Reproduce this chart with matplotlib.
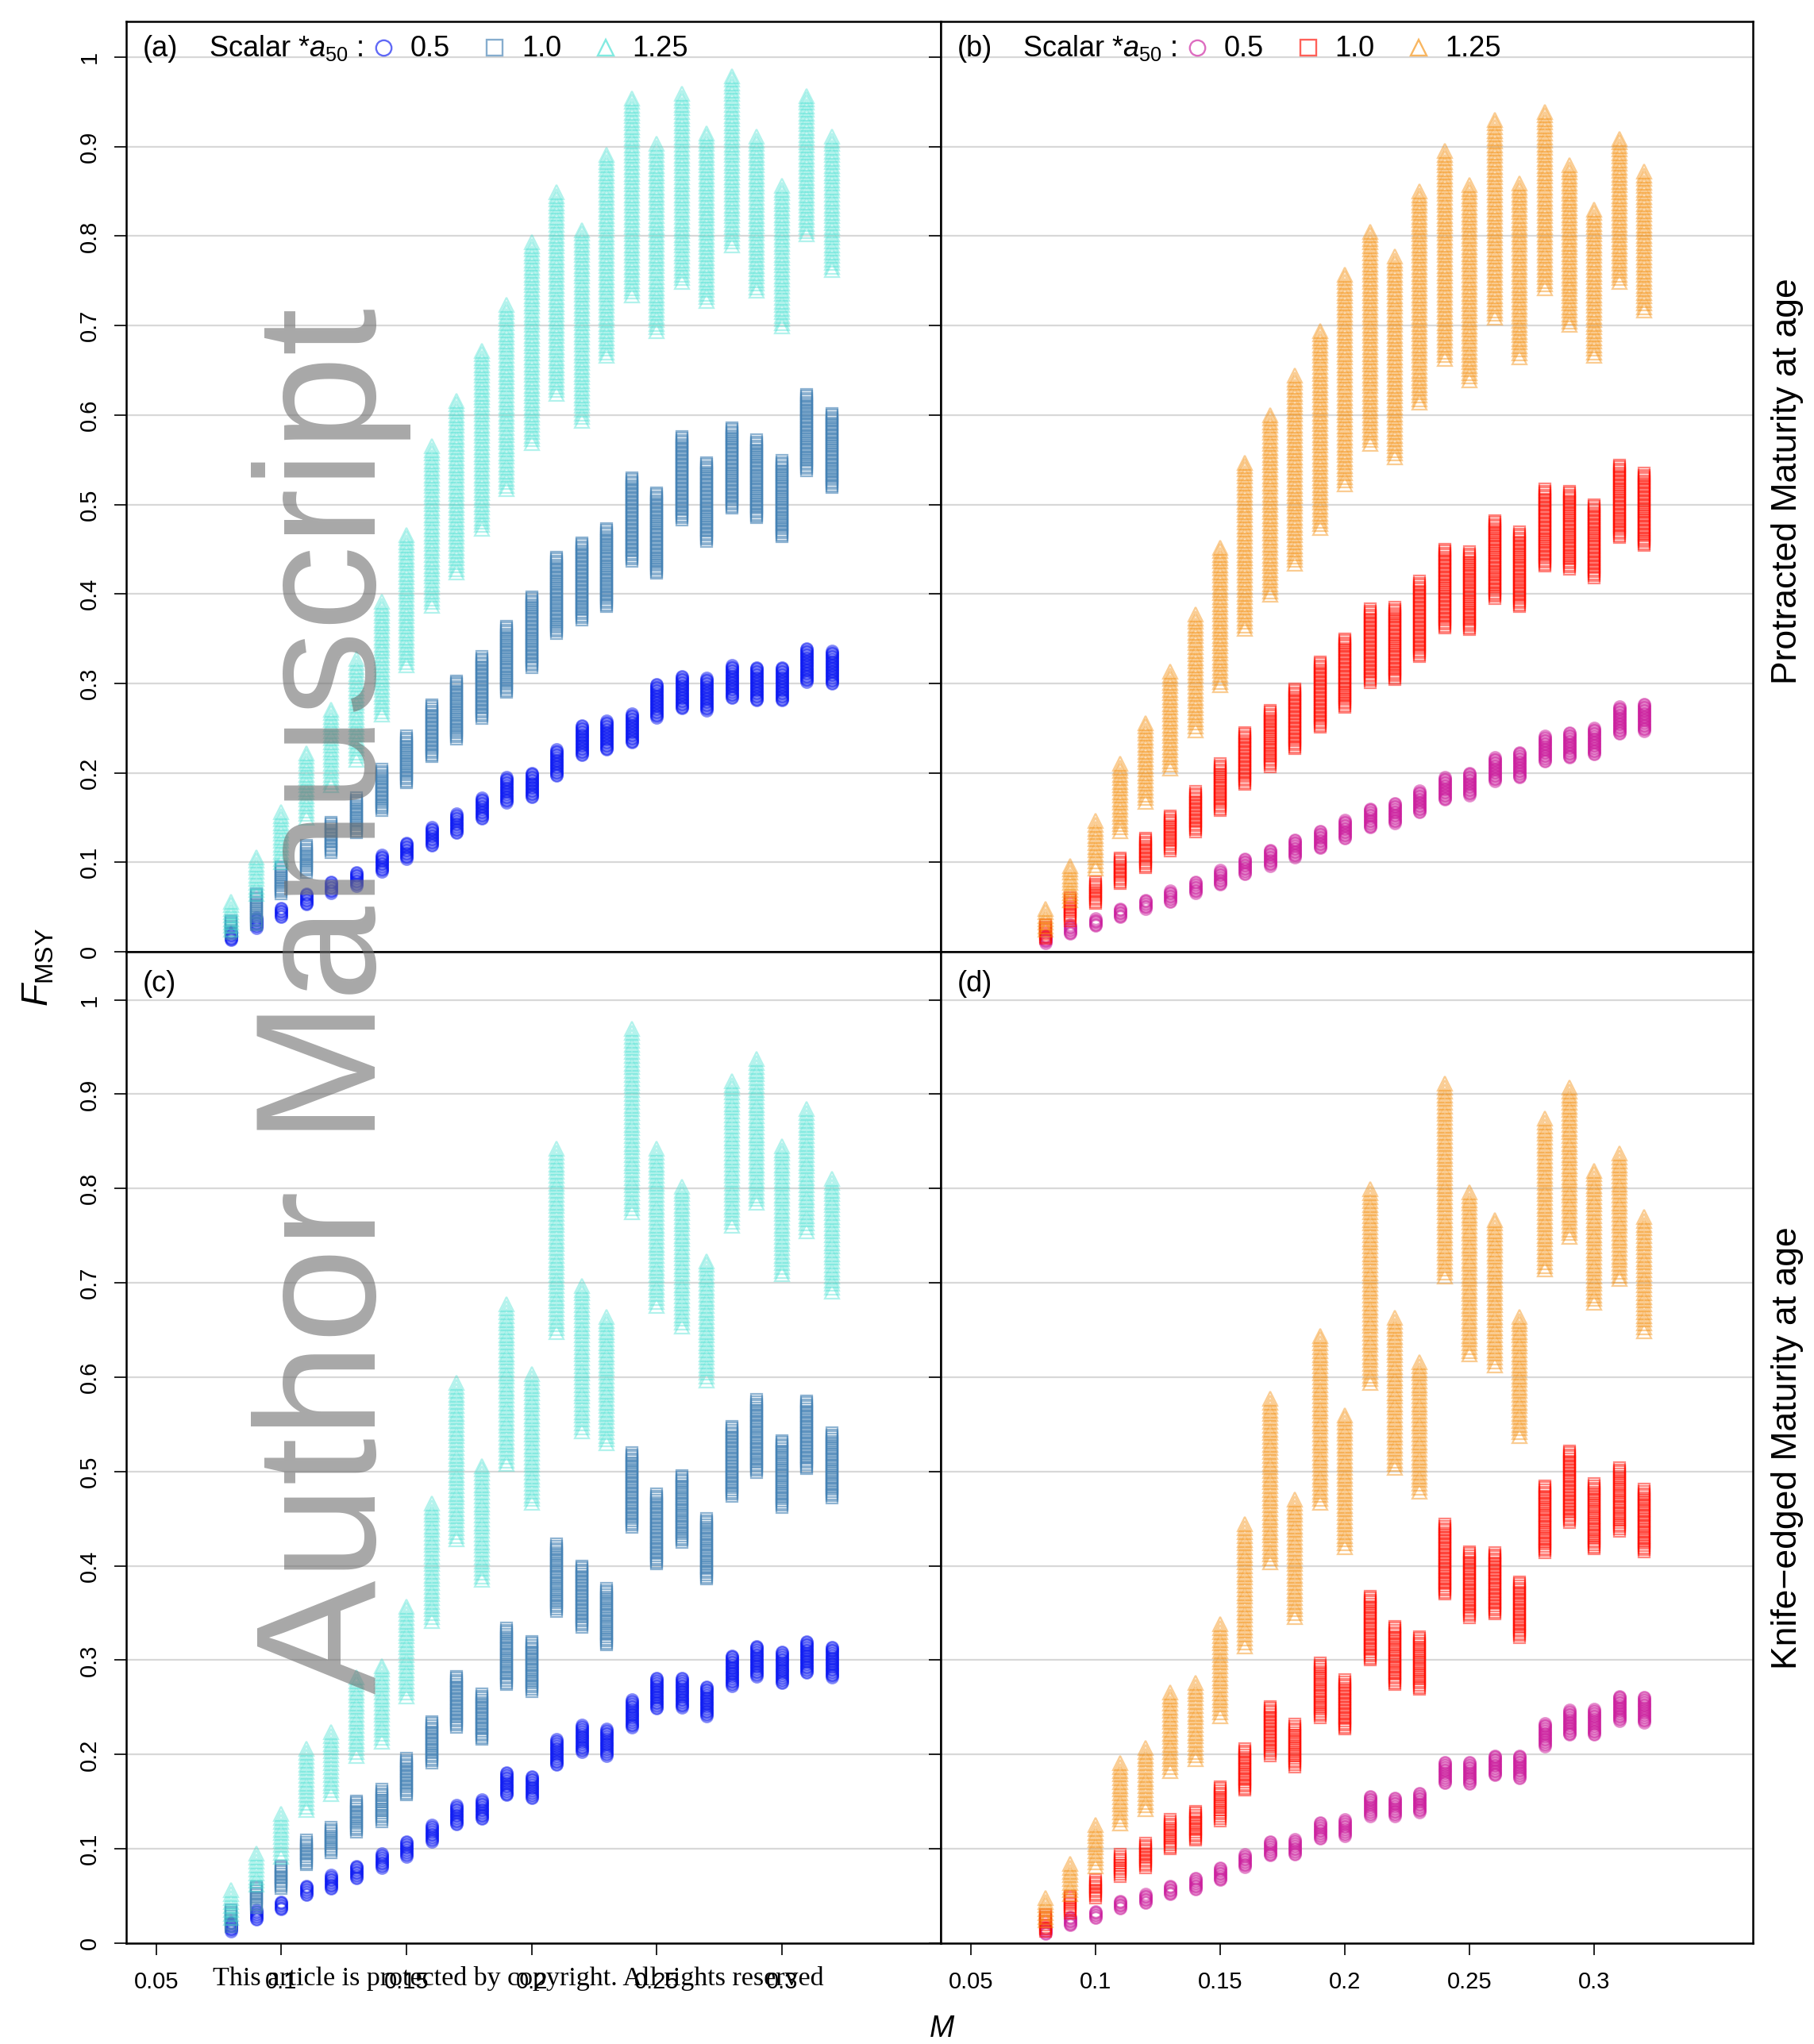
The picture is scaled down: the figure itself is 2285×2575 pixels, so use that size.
import numpy as np
import matplotlib
matplotlib.use('Agg')
import matplotlib.pyplot as plt

plt.rcParams['font.family'] = ['Liberation Sans', 'DejaVu Sans']
plt.rcParams['mathtext.fontset'] = 'custom'
plt.rcParams['mathtext.rm'] = 'Liberation Sans'
plt.rcParams['mathtext.it'] = 'Liberation Sans:italic'

# Natural mortality values (x axis)
M = [0.08, 0.09, 0.10, 0.11, 0.12, 0.13, 0.14, 0.15, 0.16, 0.17, 0.18, 0.19, 0.20,
     0.21, 0.22, 0.23, 0.24, 0.25, 0.26, 0.27, 0.28, 0.29, 0.30, 0.31, 0.32]

# F_MSY range (min/max of the stacked points) per M
# (a) protracted maturity
a05_lo = [0.013, 0.027, 0.039, 0.053, 0.066, 0.074, 0.090, 0.104, 0.119, 0.133, 0.149, 0.167, 0.173,
          0.197, 0.220, 0.226, 0.234, 0.262, 0.272, 0.270, 0.284, 0.281, 0.281, 0.302, 0.300]
a05_hi = [0.022, 0.038, 0.049, 0.065, 0.078, 0.089, 0.108, 0.122, 0.139, 0.154, 0.172, 0.195, 0.200,
          0.226, 0.253, 0.258, 0.266, 0.299, 0.308, 0.306, 0.320, 0.318, 0.318, 0.339, 0.336]
a10_lo = [0.020, 0.030, 0.065, 0.089, 0.111, 0.133, 0.158, 0.189, 0.218, 0.238, 0.261, 0.290, 0.318,
          0.356, 0.371, 0.386, 0.437, 0.423, 0.483, 0.459, 0.496, 0.485, 0.464, 0.538, 0.519]
a10_hi = [0.035, 0.065, 0.095, 0.119, 0.145, 0.172, 0.204, 0.241, 0.276, 0.303, 0.330, 0.364, 0.397,
          0.441, 0.457, 0.473, 0.530, 0.513, 0.576, 0.547, 0.586, 0.572, 0.549, 0.623, 0.602]
a125_lo = [0.025, 0.065, 0.100, 0.150, 0.186, 0.215, 0.265, 0.320, 0.387, 0.424, 0.473, 0.517, 0.569,
           0.624, 0.594, 0.666, 0.734, 0.694, 0.749, 0.728, 0.790, 0.739, 0.699, 0.802, 0.762]
a125_hi = [0.056, 0.106, 0.156, 0.222, 0.271, 0.327, 0.391, 0.466, 0.565, 0.616, 0.672, 0.723, 0.793,
           0.849, 0.807, 0.891, 0.954, 0.903, 0.959, 0.915, 0.979, 0.911, 0.856, 0.957, 0.911]

# (b) protracted maturity
b05_lo = [0.010, 0.020, 0.029, 0.039, 0.048, 0.056, 0.066, 0.075, 0.087, 0.096, 0.106, 0.116, 0.127,
          0.139, 0.144, 0.156, 0.170, 0.175, 0.191, 0.195, 0.213, 0.217, 0.221, 0.244, 0.247]
b05_hi = [0.018, 0.030, 0.037, 0.048, 0.058, 0.068, 0.078, 0.091, 0.104, 0.114, 0.125, 0.135, 0.147,
          0.160, 0.166, 0.180, 0.195, 0.200, 0.217, 0.223, 0.241, 0.245, 0.250, 0.274, 0.277]
b10_lo = [0.015, 0.035, 0.054, 0.076, 0.094, 0.113, 0.134, 0.158, 0.187, 0.207, 0.227, 0.251, 0.273,
          0.301, 0.304, 0.330, 0.362, 0.360, 0.395, 0.386, 0.431, 0.428, 0.418, 0.463, 0.454]
b10_hi = [0.030, 0.060, 0.078, 0.105, 0.127, 0.152, 0.179, 0.210, 0.245, 0.270, 0.294, 0.324, 0.350,
          0.383, 0.385, 0.414, 0.450, 0.447, 0.482, 0.469, 0.517, 0.515, 0.500, 0.544, 0.535]
b125_lo = [0.025, 0.058, 0.093, 0.135, 0.168, 0.205, 0.248, 0.298, 0.361, 0.399, 0.434, 0.474, 0.523,
           0.568, 0.553, 0.614, 0.663, 0.639, 0.709, 0.665, 0.742, 0.701, 0.666, 0.749, 0.717]
b125_hi = [0.048, 0.096, 0.146, 0.210, 0.256, 0.313, 0.377, 0.452, 0.547, 0.600, 0.644, 0.694, 0.757,
           0.805, 0.777, 0.850, 0.895, 0.857, 0.930, 0.859, 0.939, 0.879, 0.830, 0.909, 0.872]

# (c) knife-edged maturity
c05_lo = [0.013, 0.025, 0.036, 0.051, 0.058, 0.069, 0.080, 0.092, 0.108, 0.126, 0.132, 0.157, 0.154,
          0.189, 0.203, 0.199, 0.229, 0.249, 0.250, 0.241, 0.273, 0.283, 0.276, 0.287, 0.282]
c05_hi = [0.022, 0.035, 0.044, 0.061, 0.072, 0.082, 0.095, 0.108, 0.125, 0.146, 0.152, 0.181, 0.177,
          0.216, 0.231, 0.227, 0.258, 0.281, 0.281, 0.272, 0.305, 0.315, 0.309, 0.320, 0.314]
c10_lo = [0.018, 0.038, 0.058, 0.083, 0.096, 0.118, 0.129, 0.157, 0.191, 0.229, 0.216, 0.274, 0.267,
          0.352, 0.335, 0.316, 0.441, 0.402, 0.425, 0.386, 0.474, 0.499, 0.462, 0.503, 0.472]
c10_hi = [0.035, 0.060, 0.082, 0.109, 0.123, 0.151, 0.163, 0.196, 0.235, 0.283, 0.264, 0.334, 0.320,
          0.423, 0.400, 0.376, 0.520, 0.476, 0.496, 0.450, 0.548, 0.576, 0.533, 0.575, 0.541]
c125_lo = [0.027, 0.062, 0.092, 0.141, 0.158, 0.199, 0.214, 0.262, 0.342, 0.428, 0.385, 0.508, 0.467,
           0.648, 0.543, 0.530, 0.775, 0.676, 0.654, 0.597, 0.761, 0.785, 0.709, 0.755, 0.691]
c125_hi = [0.056, 0.095, 0.137, 0.206, 0.224, 0.282, 0.294, 0.357, 0.466, 0.594, 0.506, 0.677, 0.603,
           0.842, 0.697, 0.664, 0.969, 0.842, 0.802, 0.723, 0.914, 0.937, 0.845, 0.884, 0.810]

# (d) knife-edged maturity
d05_lo = [0.010, 0.019, 0.027, 0.037, 0.043, 0.052, 0.057, 0.067, 0.081, 0.093, 0.094, 0.111, 0.114,
          0.135, 0.135, 0.139, 0.170, 0.169, 0.178, 0.175, 0.209, 0.221, 0.221, 0.236, 0.234]
d05_hi = [0.016, 0.028, 0.034, 0.045, 0.052, 0.061, 0.069, 0.080, 0.094, 0.108, 0.110, 0.128, 0.131,
          0.156, 0.154, 0.159, 0.192, 0.192, 0.199, 0.199, 0.233, 0.247, 0.248, 0.262, 0.261]
d10_lo = [0.013, 0.032, 0.048, 0.071, 0.080, 0.100, 0.109, 0.130, 0.162, 0.199, 0.187, 0.239, 0.227,
          0.300, 0.274, 0.269, 0.370, 0.345, 0.349, 0.324, 0.414, 0.446, 0.418, 0.437, 0.415]
d10_hi = [0.030, 0.050, 0.067, 0.094, 0.106, 0.131, 0.140, 0.166, 0.206, 0.251, 0.232, 0.297, 0.279,
          0.368, 0.336, 0.325, 0.444, 0.415, 0.414, 0.383, 0.485, 0.522, 0.487, 0.504, 0.481]
d125_lo = [0.024, 0.052, 0.082, 0.127, 0.142, 0.183, 0.195, 0.241, 0.315, 0.404, 0.346, 0.467, 0.420,
           0.594, 0.504, 0.479, 0.707, 0.624, 0.613, 0.538, 0.714, 0.749, 0.679, 0.704, 0.649]
d125_hi = [0.048, 0.084, 0.125, 0.191, 0.207, 0.266, 0.276, 0.338, 0.444, 0.577, 0.470, 0.644, 0.560,
           0.799, 0.663, 0.616, 0.911, 0.796, 0.767, 0.664, 0.874, 0.907, 0.819, 0.837, 0.770]

scalars = ['0.5', '1.0', '1.25']
yticks = [0, 0.1, 0.2, 0.3, 0.4, 0.5, 0.6, 0.7, 0.8, 0.9, 1.0]
ytick_labels = ['0', '0.1', '0.2', '0.3', '0.4', '0.5', '0.6', '0.7', '0.8', '0.9', '1']
xticks = [0.05, 0.1, 0.15, 0.2, 0.25, 0.3]
xtick_labels = ['0.05', '0.1', '0.15', '0.2', '0.25', '0.3']

blues = [(0.05, 0.1, 0.95, 0.5), (0.27, 0.51, 0.71, 0.6), (0.25, 0.88, 0.82, 0.40)]
warms = [(0.80, 0.12, 0.62, 0.5), (1.0, 0.05, 0.0, 0.5), (0.96, 0.56, 0.05, 0.45)]
markers = ['o', 's', '^']
msizes = [10.5, 9.5, 12.5]
steps = [0.0012, 0.0022, 0.004]

fig = plt.figure(figsize=(22.85, 25.75), dpi=100)
L, MID, R = 159 / 2285, 1185 / 2285, 2208 / 2285
TOP, HM, BOT = 1 - 27 / 2575, 1 - 1199 / 2575, 1 - 2448 / 2575

ax_a = fig.add_axes([L, HM, MID - L, TOP - HM])
ax_b = fig.add_axes([MID, HM, R - MID, TOP - HM])
ax_c = fig.add_axes([L, BOT, MID - L, HM - BOT])
ax_d = fig.add_axes([MID, BOT, R - MID, HM - BOT])

panels = [
    (ax_a, '(a)', blues, [(a05_lo, a05_hi), (a10_lo, a10_hi), (a125_lo, a125_hi)], True, 1.04),
    (ax_b, '(b)', warms, [(b05_lo, b05_hi), (b10_lo, b10_hi), (b125_lo, b125_hi)], True, 1.04),
    (ax_c, '(c)', blues, [(c05_lo, c05_hi), (c10_lo, c10_hi), (c125_lo, c125_hi)], False, 1.051),
    (ax_d, '(d)', warms, [(d05_lo, d05_hi), (d10_lo, d10_hi), (d125_lo, d125_hi)], False, 1.051),
]

for ax, lab, cols, series, top, ytop in panels:
    for (lo, hi), col, mk, ms, step in zip(series, cols, markers, msizes, steps):
        xs, ys = [], []
        # each column is the stack of replicate points between its min and max
        for m, l, h in zip(M, lo, hi):
            n = max(2, int(round((h - l) / step)) + 1)
            pts = np.linspace(l, h, n)
            xs.extend([m] * n)
            ys.extend(pts)
        ax.plot(xs, ys, linestyle='none', marker=mk, markersize=ms, mfc='none',
                mec=col, mew=1.6)
    ax.set_xlim(0.038, 0.3635)
    ax.set_ylim(0, ytop)
    ax.set_yticks(yticks)
    ax.set_xticks(xticks)
    ax.set_axisbelow(True)
    ax.yaxis.grid(True, color='#d8d8d8', lw=1.6)
    for s in ax.spines.values():
        s.set_linewidth(1.8)
    ax.tick_params(axis='both', direction='out', length=11, width=1.2, labelsize=21)
    if ax in (ax_a, ax_c):
        ax.set_yticklabels(ytick_labels)
        ax.tick_params(axis='y', labelrotation=90, pad=12)
        for t in ax.get_yticklabels():
            t.set_va('center')
    else:
        ax.tick_params(axis='y', labelleft=False)
    if top:
        ax.tick_params(axis='x', labelbottom=False)
    else:
        ax.set_xticklabels(xtick_labels)
        ax.tick_params(axis='x', pad=14)

    if top:
        ax.text(0.0205, 0.9625, lab, transform=ax.transAxes, fontsize=26, va='baseline')
        ax.text(0.1009, 0.9625, r'Scalar *$a_{50}$ :', transform=ax.transAxes, fontsize=26,
                va='baseline')
        lx = [0.3158, 0.4522, 0.5887]
        tx = [0.349, 0.4854, 0.6209]
        for x0, t0, col, mk, sc in zip(lx, tx, cols, markers, scalars):
            c = (col[0], col[1], col[2], 0.65)
            ax.plot([x0], [0.9718], transform=ax.transAxes, marker=mk, markersize=14,
                    mfc='none', mec=c, mew=1.7, linestyle='none', clip_on=False)
            ax.text(t0, 0.9625, sc, transform=ax.transAxes, fontsize=26, va='baseline')
    else:
        ax.text(0.0205, 0.96, lab, transform=ax.transAxes, fontsize=26, va='baseline')

# axis titles and side labels
fig.text(49 / 2285, 1 - 1219 / 2575, r'$F_{\mathrm{MSY}}$', rotation=90, fontsize=33,
         ha='center', va='center')
fig.text(1186 / 2285, 1 - 2556 / 2575, 'M', fontsize=27, style='italic', ha='center', va='center')
fig.text(2251 / 2285, 1 - 606 / 2575, 'Protracted Maturity at age', rotation=90, fontsize=32,
         ha='center', va='center')
fig.text(2251 / 2285, 1 - 1824 / 2575, 'Knife\u2212edged Maturity at age', rotation=90, fontsize=32,
         ha='center', va='center')

# watermark and copyright note
fig.text(473 / 2285, 1 - 1261 / 2575, 'Author Manuscript', rotation=90, rotation_mode='anchor',
         ha='center', va='baseline', fontsize=155, color='#6e6e6e', alpha=0.6, zorder=10)
fig.text(268 / 2285, 1 - 2492 / 2575, 'This article is protected by copyright. All rights reserved',
         family='Liberation Serif', fontsize=24.5, ha='left', va='center', zorder=10)

fig.savefig('out.png', dpi=100)
